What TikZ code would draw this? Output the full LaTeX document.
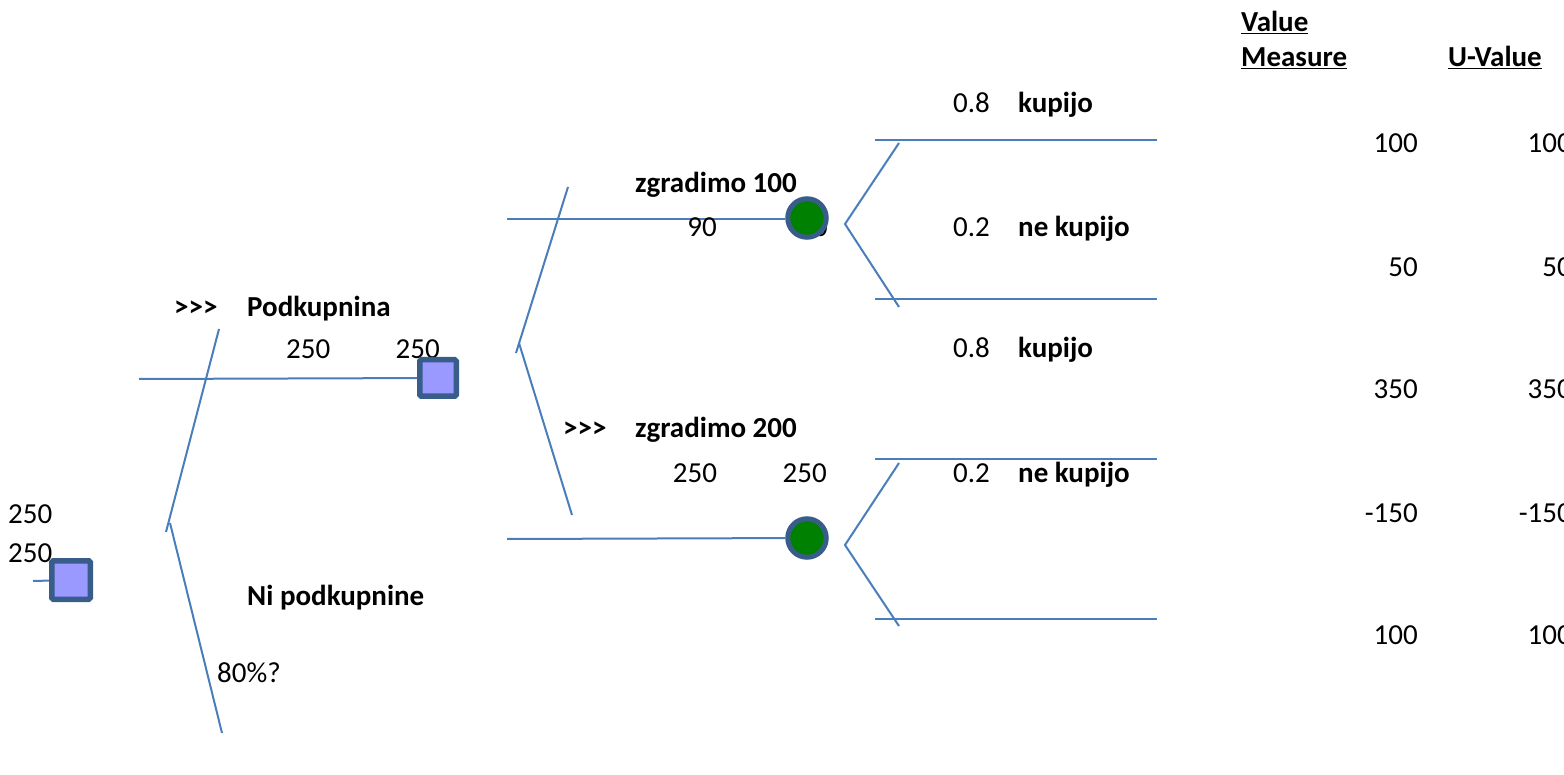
\documentclass[tikz,border=0pt]{standalone}
\usepackage{fontspec}
\setmainfont{Carlito}
\definecolor{lineblue}{RGB}{74,126,187}
\definecolor{nodeborder}{RGB}{56,93,138}
\definecolor{sqfill}{RGB}{153,153,255}
\definecolor{chancefill}{RGB}{0,128,0}
\newcommand{\gtgtgt}{{>}{>}{>}}
\begin{document}
\begin{tikzpicture}[x=1pt,y=-1pt,
  branch/.style={draw=lineblue,line width=2pt},
  decisionbox/.style={rectangle,draw=nodeborder,fill=sqfill,line width=5.5pt,minimum size=38.5pt,inner sep=0pt,rounded corners=1.5pt},
  chancenode/.style={circle,draw=nodeborder,fill=chancefill,line width=5pt,minimum size=38.5pt,inner sep=0pt},
  txt/.style={inner sep=0pt,text height=18.7pt,text depth=0pt,font=\fontsize{29}{35}\selectfont},
  btxt/.style={txt,font=\fontsize{29}{35}\selectfont\bfseries}]
\useasboundingbox (0,0) rectangle (1564,775);
\clip (0,0) rectangle (1564,775);

% ---- left decision node and its labels
\node[txt,anchor=west] (v0a) at (8,514) {250};
\node[txt,anchor=west] (v0b) at (8,553) {250};
\coordinate (tail) at (33,581);
\node[decisionbox] (D0) at (71,580) {};
\draw[branch] (tail) -- (D0);

% ---- left fan
\coordinate (lf1) at (219,329);
\coordinate (lf2) at (166,532);
\coordinate (lfa) at (170,523);
\coordinate (lf3) at (222,733);
\draw[branch] (lf1) -- (lf2);
\draw[branch] (lfa) -- (lf3);

% ---- Podkupnina branch
\node[btxt,anchor=west] (g1) at (174,307) {\gtgtgt};
\node[btxt,anchor=west] (p1) at (247,307) {Podkupnina};
\node[txt,anchor=west] (p1a) at (286,349) {250};
\node[txt,anchor=east] (p1b) at (440,349) {250};
\coordinate (h1) at (139,379);
\node[decisionbox,minimum size=36.5pt] (D1) at (438,378) {};
\draw[branch] (h1) -- (D1);

% ---- Ni podkupnine branch
\node[btxt,anchor=west] (p2) at (247,596) {Ni podkupnine};
\node[txt,anchor=west] (p2a) at (217,673) {80\%?};

% ---- middle fan
\coordinate (mf1) at (568,187);
\coordinate (mf2) at (516,353);
\coordinate (mfa) at (519,343);
\coordinate (mf3) at (572,515);
\draw[branch] (mf1) -- (mf2);
\draw[branch] (mfa) -- (mf3);

% ---- zgradimo 100
\node[btxt,anchor=west] (z1) at (635,183) {zgradimo 100};
\coordinate (h2) at (507,219);
\draw[branch] (h2) -- (785,219);
\node[txt] (z1a) at (702,227) {90};
\node[txt,anchor=east] (z1b) at (828,227) {90};
\node[chancenode] (C1) at (807,218) {};

% ---- zgradimo 200
\node[btxt,anchor=west] (g2) at (563,428) {\gtgtgt};
\node[btxt,anchor=west] (z2) at (635,428) {zgradimo 200};
\node[txt] (z2a) at (695,473) {250};
\node[txt,anchor=east] (z2b) at (827,473) {250};
\coordinate (h3) at (507,539);
\node[chancenode] (C2) at (807,538) {};
\draw[branch] (h3) -- (C2);

% ---- chance fans
\coordinate (c1u) at (899,143);
\coordinate (c1a) at (845,224);
\coordinate (c1d) at (899,307);
\draw[branch] (c1u) -- (c1a) -- (c1d);
\coordinate (c2u) at (899,463);
\coordinate (c2a) at (845,545);
\coordinate (c2d) at (899,626);
\draw[branch] (c2u) -- (c2a) -- (c2d);

% ---- outcome lines
\coordinate (o1s) at (875,140); \coordinate (o1e) at (1157,140);
\coordinate (o2s) at (875,299); \coordinate (o2e) at (1157,299);
\coordinate (o3s) at (875,459); \coordinate (o3e) at (1157,459);
\coordinate (o4s) at (875,619); \coordinate (o4e) at (1157,619);
\draw[branch] (o1s) -- (o1e);
\draw[branch] (o2s) -- (o2e);
\draw[branch] (o3s) -- (o3e);
\draw[branch] (o4s) -- (o4e);

% ---- outcome labels
\node[txt,anchor=west] (q1) at (953,103) {0.8};
\node[btxt,anchor=west] (k1) at (1018,103) {kupijo};
\node[txt,anchor=west] (q2) at (953,227) {0.2};
\node[btxt,anchor=west] (k2) at (1018,227) {ne kupijo};
\node[txt,anchor=west] (q3) at (953,348) {0.8};
\node[btxt,anchor=west] (k3) at (1018,348) {kupijo};
\node[txt,anchor=west] (q4) at (953,473) {0.2};
\node[btxt,anchor=west] (k4) at (1018,473) {ne kupijo};

% ---- value columns
\node[btxt,anchor=west] (hv1) at (1241,22) {\underline{Value}};
\node[btxt,anchor=west] (hv2) at (1241,57) {\underline{Measure}};
\node[btxt,anchor=west] (hu) at (1448,57) {\underline{U-Value}};

\node[txt,anchor=east] (vm1) at (1418,143) {100};
\node[txt,anchor=east] (vm2) at (1418,267) {50};
\node[txt,anchor=east] (vm3) at (1418,389) {350};
\node[txt,anchor=east] (vm4) at (1418,513) {-150};
\node[txt,anchor=east] (vm5) at (1418,635) {100};

\node[txt,anchor=east] (uv1) at (1572,143) {100};
\node[txt,anchor=east] (uv2) at (1572,267) {50};
\node[txt,anchor=east] (uv3) at (1572,389) {350};
\node[txt,anchor=east] (uv4) at (1572,513) {-150};
\node[txt,anchor=east] (uv5) at (1572,635) {100};
\end{tikzpicture}
\end{document}
